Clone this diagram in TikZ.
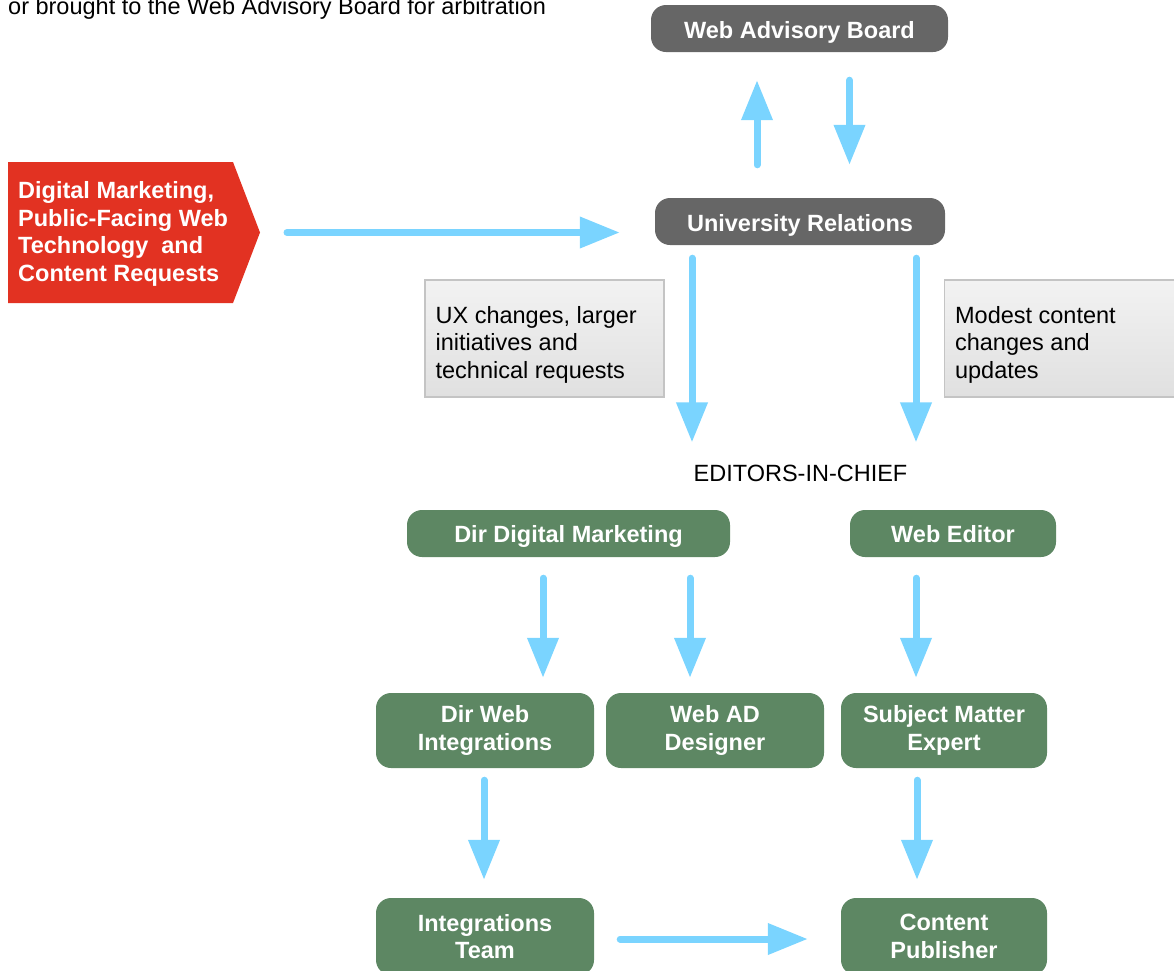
\documentclass[tikz,border=0pt]{standalone}
\usepackage{fontspec}
\setmainfont{Liberation Sans}
\usetikzlibrary{arrows.meta}
\definecolor{arrowblue}{RGB}{122,212,255}
\definecolor{boardgray}{RGB}{102,102,102}
\definecolor{reqred}{RGB}{226,50,34}
\definecolor{teamgreen}{RGB}{93,135,99}
\definecolor{notetop}{RGB}{242,242,242}
\definecolor{notebot}{RGB}{224,224,224}
\definecolor{noteline}{RGB}{196,196,196}
\tikzset{
  arr/.style={line width=7pt, draw=arrowblue, line cap=round,
    -{Triangle[width=30pt,length=40pt]}},
  txt/.style={font=\fontsize{23.5}{27.5}\selectfont},
  boldtxt/.style={font=\fontsize{23.5}{27.5}\selectfont\bfseries},
  grayrole/.style={boldtxt, fill=boardgray, text=white,
    rounded corners=15pt, minimum height=47pt, inner sep=0pt, text height=19pt, text depth=0pt},
  greenrole/.style={boldtxt, fill=teamgreen, text=white,
    rounded corners=15pt, inner sep=0pt, align=center},
  greensingle/.style={greenrole, minimum height=47pt, text height=17pt, text depth=0pt},
  notebox/.style={draw=noteline, line width=1.2pt, top color=notetop, bottom color=notebot,
    minimum height=117pt, minimum width=239pt, inner sep=0pt},
  notetext/.style={txt, align=left, inner sep=0pt, anchor=west}
}
\begin{document}
\begin{tikzpicture}[x=1pt,y=-1pt]
\useasboundingbox (0,0) rectangle (1174,970);
\clip (0,0) rectangle (1174,970);

\node[txt, anchor=base west, inner sep=0pt] (caption) at (8,14) {or brought to the Web Advisory Board for arbitration};

\node[grayrole, minimum width=297pt] (wab) at (799.5,28.5) {Web Advisory Board};
\node[grayrole, minimum width=290pt] (ur) at (800,221.5) {University Relations};

\fill[reqred] (8,162) -- (233,162) -- (260,232.5) -- (233,303) -- (8,303) -- cycle;
\coordinate (reqtip) at (260,232.5);
\node[boldtxt, text=white, align=left, anchor=west, inner sep=0pt] (req) at (18,234)
  {Digital Marketing,\\Public-Facing Web\\Technology~ and\\Content Requests};

\node[notebox] (noteleft) at (544.5,338.5) {};
\node[notetext] (notelefttext) at ([xshift=11pt,yshift=-6pt]noteleft.west) {UX changes, larger\\initiatives and\\technical requests};
\node[notebox] (noteright) at (1064,338.5) {};
\node[notetext] (noterighttext) at ([xshift=11pt,yshift=-6pt]noteright.west) {Modest content\\changes and\\updates};

\node[txt, anchor=base, inner sep=0pt] (eic) at (800.5,481) {EDITORS-IN-CHIEF};

\node[greensingle, minimum width=323pt] (ddm) at (568.5,533.5) {Dir Digital Marketing};
\node[greensingle, minimum width=206pt] (we) at (953,533.5) {Web Editor};

\node[greenrole, minimum width=218pt, minimum height=75pt] (dwi) at (485,730.5) {Dir Web\\Integrations};
\node[greenrole, minimum width=218pt, minimum height=75pt] (wad) at (715,730.5) {Web AD\\Designer};
\node[greenrole, minimum width=206pt, minimum height=75pt] (sme) at (944,730.5) {Subject Matter\\Expert};

\node[greenrole, minimum width=218pt, minimum height=77pt] (it) at (485,936.5) {Integrations\\Team};
\node[greenrole, minimum width=206pt, minimum height=77pt] (cp) at (944,936.5) {Content\\Publisher};

% connectors
\draw[arr, shorten <=27pt, shorten >=35pt] (reqtip) -- (reqtip -| ur.west);
\draw[arr, shorten <=33pt, shorten >=28pt] ([xshift=-43pt]ur.north) -- ([xshift=-43pt]ur.north |- wab.south);
\draw[arr, shorten <=28pt, shorten >=33pt] ([xshift=50pt]wab.south) -- ([xshift=50pt]wab.south |- ur.north);

\draw[arr, shorten <=13pt, shorten >=22pt] ([xshift=-108pt]ur.south) -- ([xshift=-108pt]ur.south |- eic.north);
\draw[arr, shorten <=13pt, shorten >=22pt] ([xshift=116pt]ur.south) -- ([xshift=116pt]ur.south |- eic.north);

\draw[arr, shorten <=21pt, shorten >=15pt] ([xshift=-25.5pt]ddm.south) -- ([xshift=-25.5pt]ddm.south |- dwi.north);
\draw[arr, shorten <=21pt, shorten >=15pt] ([xshift=121.5pt]ddm.south) -- ([xshift=121.5pt]ddm.south |- wad.north);
\draw[arr, shorten <=21pt, shorten >=15pt] ([xshift=-37pt]we.south) -- ([xshift=-37pt]we.south |- sme.north);

\draw[arr, shorten <=12pt, shorten >=18pt] ([xshift=-1pt]dwi.south) -- ([xshift=-1pt]dwi.south |- it.north);
\draw[arr, shorten <=12pt, shorten >=18pt] ([xshift=-27pt]sme.south) -- ([xshift=-27pt]sme.south |- cp.north);

\draw[arr, shorten <=26pt, shorten >=33pt] ([yshift=-2.5pt]it.east) -- ([yshift=-2.5pt]it.east -| cp.west);
\end{tikzpicture}
\end{document}
